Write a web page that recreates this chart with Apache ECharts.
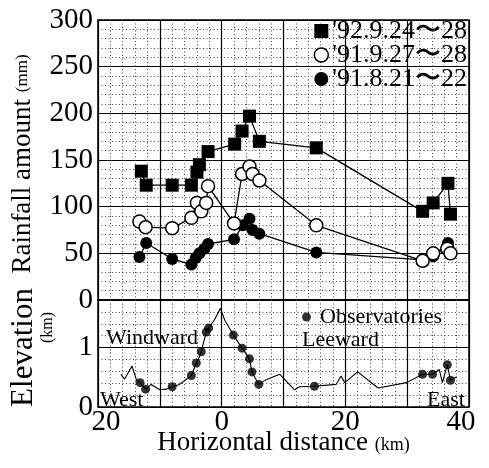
<!DOCTYPE html>
<html>
<head>
<meta charset="utf-8">
<script src="https://cdn.jsdelivr.net/npm/echarts@6/dist/echarts.min.js"></script>
<style>
  html, body { margin: 0; padding: 0; background: #fff; }
  #chart { width: 489px; height: 468px; }
</style>
</head>
<body>
<div id="chart"></div>
<script>
// Rainfall totals along the cross-section (distance in km, west negative)
const rain92X = [-13.0, -12.2, -8.0, -4.9, -4.0, -3.6, -2.2, 2.1, 3.3, 4.5, 6.1, 15.3, 32.5, 34.2, 36.6, 37.0];
const rain92Y = [138, 123, 123, 123, 137, 145, 159, 167, 181, 197, 170, 163, 95, 104, 125, 92];

const rain91SepX = [-13.3, -12.3, -8.0, -4.9, -4.0, -3.3, -2.5, -2.2, 2.0, 3.3, 4.5, 5.0, 6.1, 15.3, 32.5, 34.2, 36.5, 37.0];
const rain91SepY = [84, 78, 77, 88, 104, 95, 104, 122, 82, 135, 143, 135, 128, 80, 42, 50, 55, 50];

const rain91AugX = [-13.3, -12.2, -8.0, -4.9, -4.2, -3.6, -2.8, -2.2, 2.0, 3.4, 4.5, 5.0, 6.1, 15.3, 32.5, 34.2, 36.6];
const rain91AugY = [46, 61, 44, 38, 45, 50, 55, 60, 65, 80, 87, 75, 71, 51, 43, 47, 61];

// Terrain profile (km)
const terrainX = [-16.3, -15.7, -14.5, -13.8, -13.2, -12.3, -11.4, -10.0, -9.0, -8.0, -6.8, -4.9, -4.1, -3.7, -3.3, -2.5, -2.1, -1.2, -0.2, 0.5, 1.9, 3.3, 4.5, 4.9, 6.0, 7.2, 9.4, 11.8, 12.6, 15.0, 18.5, 19.3, 19.9, 22.0, 25.3, 29.9, 32.5, 34.1, 35.2, 35.7, 36.5, 37.0, 38.0];
const terrainY = [0.55, 0.47, 0.69, 0.46, 0.41, 0.30, 0.38, 0.29, 0.30, 0.34, 0.38, 0.53, 0.74, 0.82, 0.93, 1.26, 1.33, 1.46, 1.66, 1.46, 1.21, 0.99, 0.81, 0.59, 0.38, 0.46, 0.55, 0.29, 0.34, 0.35, 0.38, 0.52, 0.41, 0.59, 0.32, 0.41, 0.55, 0.55, 0.63, 0.41, 0.71, 0.45, 0.51];

// Observatory sites on the profile
const obsX = [-13.2, -12.3, -8.0, -4.9, -4.1, -3.3, -2.5, -2.1, 1.9, 3.3, 4.5, 4.9, 6.0, 15.0, 32.5, 34.1, 36.5, 37.0];
const obsY = [0.41, 0.30, 0.34, 0.53, 0.74, 0.93, 1.26, 1.33, 1.21, 0.99, 0.81, 0.59, 0.38, 0.35, 0.55, 0.55, 0.71, 0.45];

// Axis ticks
const rainTicks = [0, 300, 50];
const elevTicks = [0, 1.8];
const distTicks = [-20, 40, 10];

const seriesNames = ["'92.9.24\u301c28", "'91.9.27\u301c28", "'91.8.21\u301c22"];

const zip = (xs, ys) => xs.map((x, i) => [x, ys[i]]);

const SERIF = "'Liberation Serif', 'Times New Roman', serif";
const solid = { color: '#000', width: 1.2, type: 'solid' };
const dotted = { color: '#444', width: 1, type: [1, 2.5] };

// distance labels: west side shown as positive km, end labels nudged inward
function distLabel(v) {
  if (v % 20 !== 0) return '';
  if (v === distTicks[0]) return '{l|' + Math.abs(v) + '}';
  if (v === distTicks[1]) return '{r|' + Math.abs(v) + '}';
  return String(Math.abs(v));
}

const chart = echarts.init(document.getElementById('chart'), null, { renderer: 'canvas' });

chart.setOption({
  animation: false,
  backgroundColor: '#fff',
  textStyle: { fontFamily: SERIF, color: '#000' },
  grid: [
    { left: 98, top: 20, width: 371, height: 280, show: true, borderColor: '#000', borderWidth: 1.5, backgroundColor: 'transparent' },
    { left: 98, top: 300, width: 371, height: 107, show: true, borderColor: '#000', borderWidth: 1.5, backgroundColor: 'transparent' }
  ],
  xAxis: [
    {
      type: 'value', gridIndex: 0, min: distTicks[0], max: distTicks[1], interval: distTicks[2],
      axisLine: { show: false }, axisTick: { show: false }, axisLabel: { show: false },
      splitLine: { show: true, lineStyle: solid },
      minorTick: { show: false, splitNumber: 5 },
      minorSplitLine: { show: true, lineStyle: dotted }
    },
    {
      type: 'value', gridIndex: 1, min: distTicks[0], max: distTicks[1], interval: distTicks[2],
      axisLine: { show: false }, axisTick: { show: false },
      axisLabel: {
        fontFamily: SERIF, fontSize: 29, color: '#000', margin: 1,
        formatter: distLabel,
        rich: {
          l: { fontFamily: SERIF, fontSize: 29, color: '#000', padding: [0, 0, 0, 16] },
          r: { fontFamily: SERIF, fontSize: 29, color: '#000', padding: [0, 16, 0, 0] }
        }
      },
      splitLine: { show: true, lineStyle: solid },
      minorTick: { show: false, splitNumber: 5 },
      minorSplitLine: { show: true, lineStyle: dotted },
      name: '{a|Horizontal distance }{b|(km)}',
      nameLocation: 'middle', nameGap: 36, nameMoveOverlap: false,
      nameTextStyle: {
        verticalAlign: 'middle',
        rich: {
          a: { fontFamily: SERIF, fontSize: 27, color: '#000', verticalAlign: 'middle' },
          b: { fontFamily: SERIF, fontSize: 18, color: '#000', verticalAlign: 'middle', padding: [5, 0, 0, 0] }
        }
      }
    }
  ],
  yAxis: [
    {
      type: 'value', gridIndex: 0, min: rainTicks[0], max: rainTicks[1], interval: rainTicks[2],
      axisLine: { show: false }, axisTick: { show: false },
      axisLabel: { fontFamily: SERIF, fontSize: 29, color: '#000', margin: 5 },
      splitLine: { show: true, lineStyle: solid },
      minorTick: { show: false, splitNumber: 5 },
      minorSplitLine: { show: true, lineStyle: dotted },
      name: '{a|Rainfall amount }{b|(mm)}',
      nameLocation: 'middle', nameGap: 62, nameRotate: 90,
      nameTextStyle: {
        padding: [0, 8, 0, 0],
        rich: {
          a: { fontFamily: SERIF, fontSize: 27, color: '#000' },
          b: { fontFamily: SERIF, fontSize: 17, color: '#000' }
        }
      }
    },
    {
      type: 'value', gridIndex: 1, min: elevTicks[0], max: elevTicks[1], interval: 0.2,
      axisLine: { show: false }, axisTick: { show: false },
      axisLabel: {
        fontFamily: SERIF, fontSize: 29, color: '#000', margin: 5,
        formatter: v => (Math.abs(v) < 1e-6 ? '0' : Math.abs(v - 1) < 1e-6 ? '1' : '')
      },
      splitLine: { show: true, lineStyle: dotted },
      name: '{a|Elevation}\n{b|(km)}',
      nameLocation: 'middle', nameGap: 40, nameRotate: 90,
      nameTextStyle: {
        padding: [0, 0, 0, 12],
        rich: {
          a: { fontFamily: SERIF, fontSize: 31, color: '#000', lineHeight: 28 },
          b: { fontFamily: SERIF, fontSize: 16, color: '#000', lineHeight: 20, padding: [0, 0, 0, 40] }
        }
      }
    },
    {
      type: 'value', gridIndex: 1, min: elevTicks[0], max: elevTicks[1], interval: 1,
      axisLine: { show: false }, axisTick: { show: false }, axisLabel: { show: false },
      splitLine: { show: true, lineStyle: solid }
    }
  ],
  legend: [
    {
      orient: 'vertical', right: 22, top: 18, itemGap: -2,
      itemWidth: 14, itemHeight: 14, padding: 0,
      textStyle: { fontFamily: SERIF, fontSize: 26, color: '#000', padding: [0, 0, 0, -1] },
      data: [
        { name: seriesNames[0], icon: 'rect', itemStyle: { color: '#000', borderWidth: 0 } },
        { name: seriesNames[1], icon: 'circle', itemStyle: { color: '#fff', borderColor: '#000', borderWidth: 1.5 } },
        { name: seriesNames[2], icon: 'circle', itemStyle: { color: '#000', borderWidth: 0 } }
      ]
    },
    {
      orient: 'vertical', left: 302, top: 306, padding: 0,
      itemWidth: 9, itemHeight: 9,
      textStyle: { fontFamily: SERIF, fontSize: 22, color: '#000', padding: [0, 0, 0, 4] },
      data: [{ name: 'Observatories', icon: 'circle', itemStyle: { color: '#000' } }]
    }
  ],
  graphic: [
    { type: 'text', left: 106, top: 327, style: { text: 'Windward', font: '22px ' + SERIF, fill: '#000' } },
    { type: 'text', left: 302, top: 329, style: { text: 'Leeward', font: '22px ' + SERIF, fill: '#000' } },
    { type: 'text', left: 100, top: 389, style: { text: 'West', font: '22px ' + SERIF, fill: '#000' } },
    { type: 'text', left: 427, top: 389, style: { text: 'East', font: '22px ' + SERIF, fill: '#000' } }
  ],
  series: [
    {
      name: seriesNames[2], type: 'line', xAxisIndex: 0, yAxisIndex: 0,
      data: zip(rain91AugX, rain91AugY),
      symbol: 'circle', symbolSize: 12,
      itemStyle: { color: '#000' }, lineStyle: { color: '#000', width: 1.3 }
    },
    {
      name: seriesNames[1], type: 'line', xAxisIndex: 0, yAxisIndex: 0,
      data: zip(rain91SepX, rain91SepY),
      symbol: 'circle', symbolSize: 13,
      itemStyle: { color: '#fff', borderColor: '#000', borderWidth: 1.5 },
      lineStyle: { color: '#000', width: 1.3 }
    },
    {
      name: seriesNames[0], type: 'line', xAxisIndex: 0, yAxisIndex: 0,
      data: zip(rain92X, rain92Y),
      symbol: 'rect', symbolSize: 13,
      itemStyle: { color: '#000' }, lineStyle: { color: '#000', width: 1.3 }
    },
    {
      name: 'Terrain', type: 'line', xAxisIndex: 1, yAxisIndex: 1,
      data: zip(terrainX, terrainY),
      showSymbol: false, symbol: 'none',
      lineStyle: { color: '#000', width: 1.1 }
    },
    {
      name: 'Observatories', type: 'scatter', xAxisIndex: 1, yAxisIndex: 1,
      data: zip(obsX, obsY),
      symbol: 'circle', symbolSize: 9,
      itemStyle: { color: '#000' }
    }
  ]
});
</script>
</body>
</html>
